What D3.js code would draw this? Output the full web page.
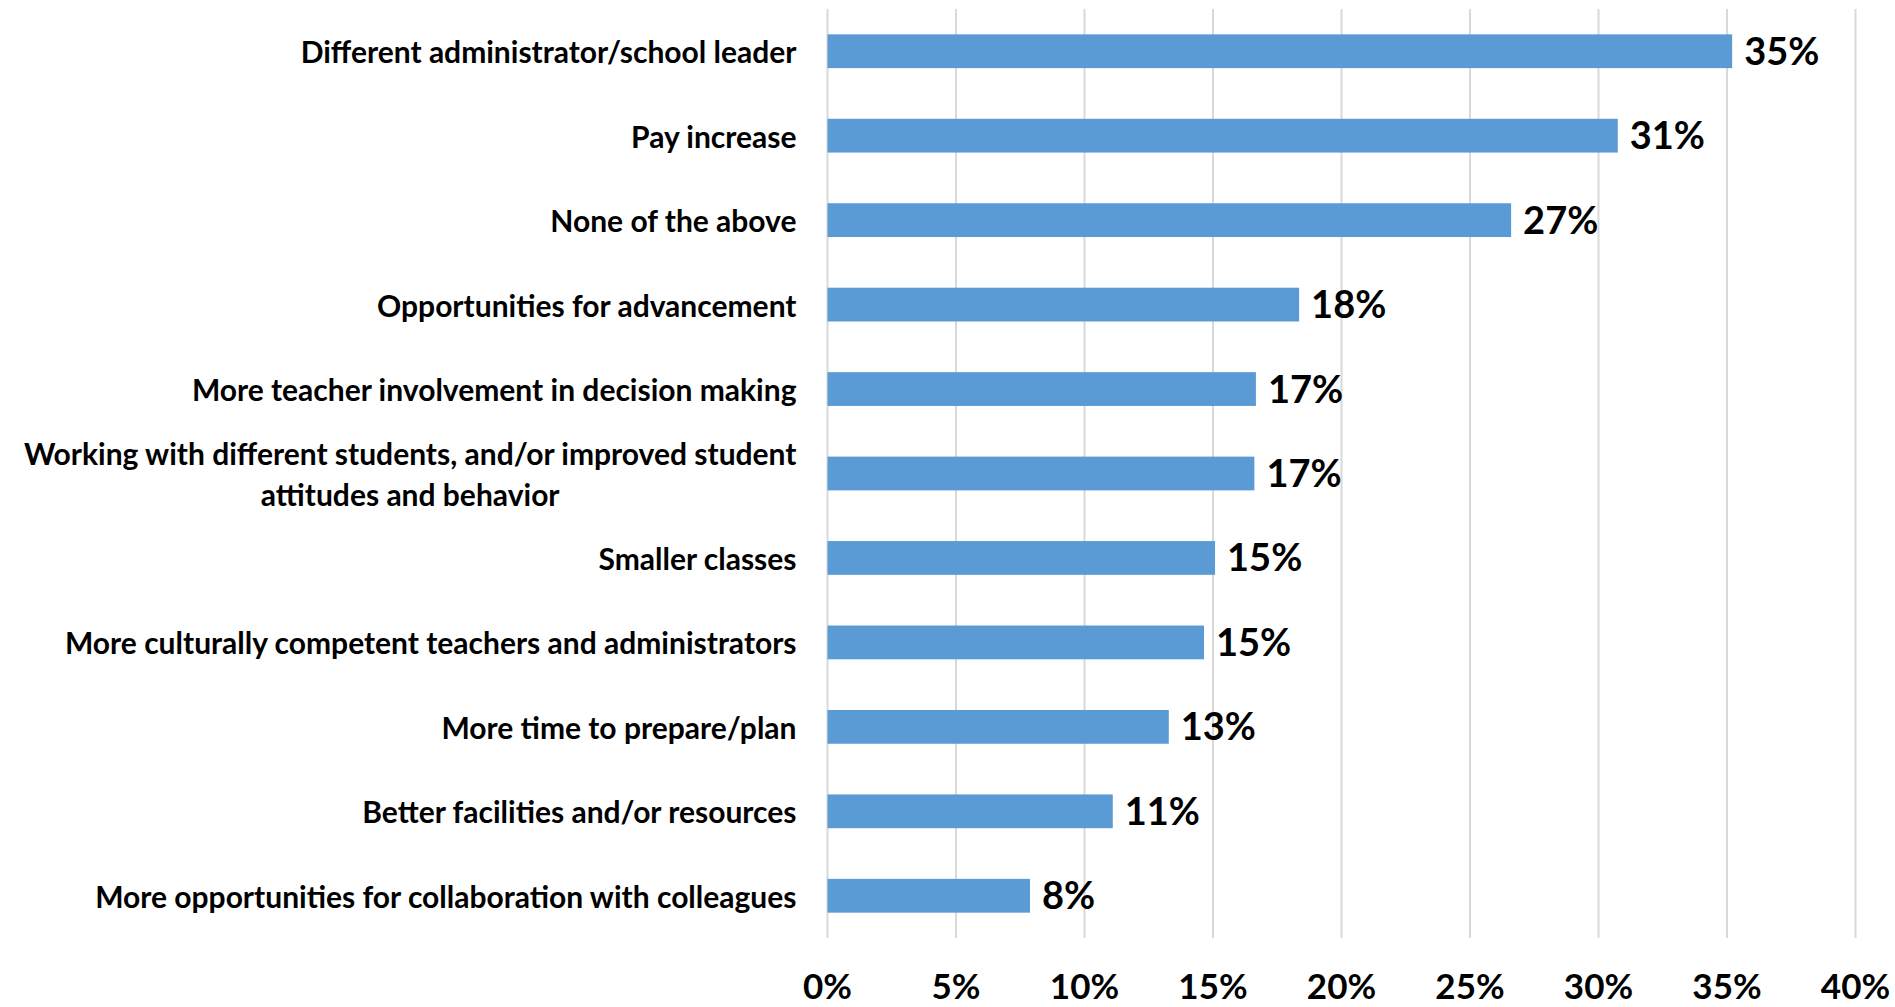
<!DOCTYPE html>
<html>
	<head>
		<title>What would make teachers stay</title>

		<style>
			body
			{
				margin: 0;
				background: #ffffff;
			}

			svg
			{
				display: block;
				width: 1895px;
				height: 1007px;
			}

			.gridLine
			{
				stroke: #d9d9d9;
				stroke-width: 2px;
			}

			.bar
			{
				fill: #5b9bd5;
			}

			.catText
			{
				font: bold 30px "Lato", sans-serif;
				fill: #000000;
			}

			.valueText
			{
				font: bold 38px "Lato", sans-serif;
				fill: #000000;
			}

			.tickText
			{
				font: bold 35px "Lato", sans-serif;
				fill: #000000;
				text-anchor: middle;
			}
		</style>

		<script src="https://d3js.org/d3.v7.min.js"></script>
	</head>

	<body>
		<svg></svg>

		<script>
			// categories, top to bottom; "\n" marks where the label wraps
			var categories = [
				"Different administrator/school leader",
				"Pay increase",
				"None of the above",
				"Opportunities for advancement",
				"More teacher involvement in decision making",
				"Working with different students, and/or improved student\nattitudes and behavior",
				"Smaller classes",
				"More culturally competent teachers and administrators",
				"More time to prepare/plan",
				"Better facilities and/or resources",
				"More opportunities for collaboration with colleagues"
			];

			// share of respondents, percent
			var percents = [35.2, 30.75, 26.6, 18.35, 16.67, 16.61, 15.08, 14.65, 13.28, 11.1, 7.88];

			var tickValues = [0, 5, 10, 15, 20, 25, 30, 35, 40];

			var width = 1895;
			var height = 1007;
			var plotLeft = 827.5;
			var plotRight = 1855.5;
			var plotTop = 9;
			var plotBottom = 938;

			var svg = d3.select("svg")
				.attr("viewBox", "0 0 " + width + " " + height);

			var x = d3.scaleLinear()
				.domain([0, 40])
				.range([plotLeft, plotRight]);

			var y = d3.scaleBand()
				.domain(d3.range(categories.length))
				.range([plotTop, plotBottom])
				.paddingInner(0.6)
				.paddingOuter(0.3);

			// vertical gridlines
			svg.selectAll("line.gridLine")
				.data(tickValues)
				.enter()
				.append("line")
				.attr("class", "gridLine")
				.attr("x1", function(d) { return x(d); })
				.attr("x2", function(d) { return x(d); })
				.attr("y1", plotTop)
				.attr("y2", plotBottom);

			// bars
			svg.selectAll("rect.bar")
				.data(percents)
				.enter()
				.append("rect")
				.attr("class", "bar")
				.attr("x", x(0))
				.attr("y", function(d, i) { return y(i); })
				.attr("width", function(d) { return x(d) - x(0); })
				.attr("height", y.bandwidth());

			// value labels
			svg.selectAll("text.valueText")
				.data(percents)
				.enter()
				.append("text")
				.attr("class", "valueText")
				.attr("x", function(d) { return x(d) + 12; })
				.attr("y", function(d, i) { return y(i) + y.bandwidth() / 2 + 13.5; })
				.text(function(d) { return Math.round(d) + "%"; });

			// category labels, right aligned, wrapped lines centred on each other
			var labelRight = plotLeft - 31;
			var lineHeight = 41;

			categories.forEach(function(cat, i)
			{
				var lines = cat.split("\n");
				var mid = y(i) + y.bandwidth() / 2;
				var g = svg.append("g");

				var texts = g.selectAll("text")
					.data(lines)
					.enter()
					.append("text")
					.attr("class", "catText")
					.attr("y", function(d, j)
					{
						return mid + 12 + (j - (lines.length - 1) / 2) * lineHeight;
					})
					.text(function(d) { return d; });

				var maxW = 0;
				texts.each(function() { maxW = Math.max(maxW, this.getComputedTextLength()); });

				texts
					.attr("x", labelRight - maxW / 2)
					.attr("text-anchor", "middle");
			});

			// x tick labels
			svg.selectAll("text.tickText")
				.data(tickValues)
				.enter()
				.append("text")
				.attr("class", "tickText")
				.attr("x", function(d) { return x(d); })
				.attr("y", 999)
				.text(function(d) { return d + "%"; });
		</script>
	</body>
</html>
